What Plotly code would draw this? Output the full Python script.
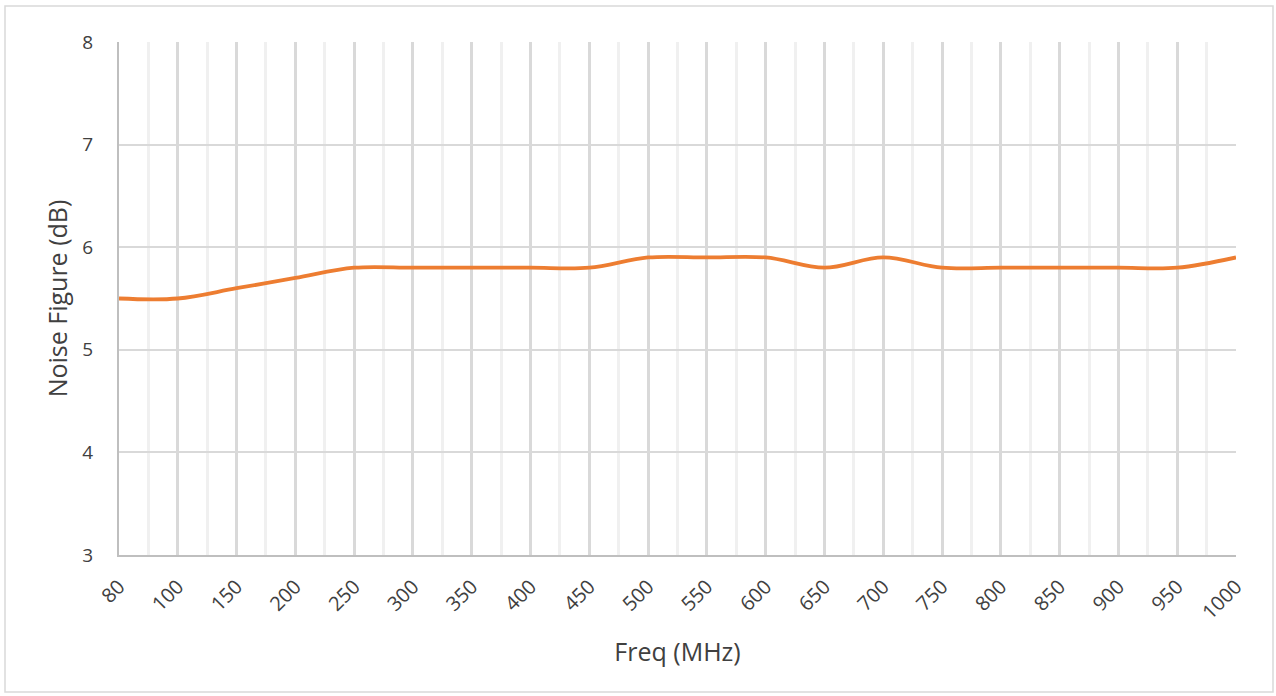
import plotly.graph_objects as go

freq_labels = ["80", "100", "150", "200", "250", "300", "350", "400", "450", "500",
               "550", "600", "650", "700", "750", "800", "850", "900", "950", "1000"]
noise_figure = [5.5, 5.5, 5.6, 5.7, 5.8, 5.8, 5.8, 5.8, 5.8, 5.9,
                5.9, 5.9, 5.8, 5.9, 5.8, 5.8, 5.8, 5.8, 5.8, 5.9]
y_ticks = [3, 4, 5, 6, 7, 8]

positions = list(range(len(freq_labels)))

fig = go.Figure()
fig.add_trace(go.Scatter(
    x=positions, y=noise_figure, mode="lines",
    line=dict(color="#ED7D31", width=3.8, shape="spline", smoothing=1),
    showlegend=False, hoverinfo="skip",
))

font_family = "Open Sans, Noto Sans, sans-serif"
W, H = 1276, 696
ml, mr, mt, mb = 119, 40, 42, 141
pw, ph = W - ml - mr, H - mt - mb

fig.update_layout(
    width=W, height=H,
    margin=dict(l=ml, r=mr, t=mt, b=mb, pad=0),
    paper_bgcolor="white", plot_bgcolor="white",
    font=dict(family=font_family, color="#404040"),
    xaxis=dict(
        range=[0, len(freq_labels) - 1],
        tickmode="array", tickvals=positions, ticktext=freq_labels,
        tickangle=-45, tickfont=dict(size=20, color="#404040"),
        showgrid=True, gridcolor="#d9d9d9", gridwidth=2.5,
        minor=dict(tickmode="linear", tick0=0.5, dtick=1, showgrid=True,
                   gridcolor="#f0f0f0", gridwidth=2.5),
        showline=True, linecolor="#bfbfbf", linewidth=2,
        ticks="outside", ticklen=10, tickcolor="rgba(0,0,0,0)", zeroline=False,
        title=dict(text="Freq (MHz)", font=dict(size=25, color="#404040"), standoff=20),
    ),
    yaxis=dict(
        range=[3, 8], tickvals=y_ticks,
        tickfont=dict(size=19, color="#404040"),
        showgrid=True, gridcolor="#d9d9d9", gridwidth=2,
        showline=True, linecolor="#bfbfbf", linewidth=2,
        ticks="outside", ticklen=20, tickcolor="rgba(0,0,0,0)", zeroline=False,
        title=dict(text="Noise Figure (dB)", font=dict(size=25, color="#404040"), standoff=8),
    ),
    shapes=[dict(
        type="rect", xref="paper", yref="paper",
        x0=(5 - ml) / pw, x1=(1273 - ml) / pw,
        y0=(mt + ph - 692) / ph, y1=(mt + ph - 6) / ph,
        line=dict(color="#d9d9d9", width=1.5), fillcolor="rgba(0,0,0,0)", layer="below",
    )],
)

fig.write_html("out.html", config={"displayModeBar": False},
               post_script="document.body.style.margin='0px';")
